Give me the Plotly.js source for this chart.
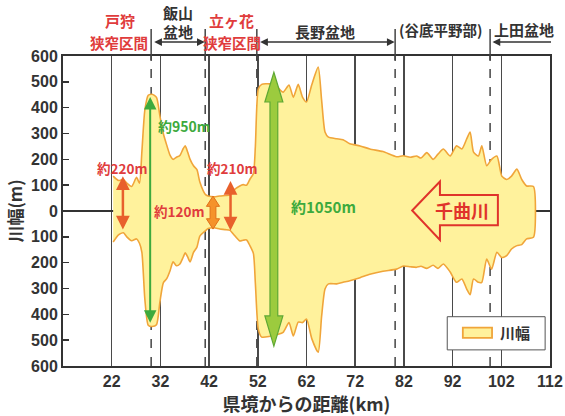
<!DOCTYPE html>
<html><head><meta charset="utf-8">
<script src="https://cdn.plot.ly/plotly-3.0.1.min.js"></script>
<style>html,body{margin:0;padding:0;background:#fff}#chart{width:565px;height:416px}</style>
</head><body><div id="chart"></div>
<script>
// distance from prefectural border (km)
const distanceKm = [22.3,23.4,24.4,25.1,26.1,27.1,27.7,28.2,28.8,29.5,30.3,31.2,31.9,32.6,33.3,34.0,34.6,35.3,36.0,36.7,37.1,37.6,38.1,38.8,39.5,40.1,41.2,41.8,43.0,44.2,45.3,46.3,47.0,48.3,49.0,49.7,50.4,51.1,51.5,52.1,52.8,54.5,56.0,57.2,58.4,59.3,60.3,61.2,62.0,63.1,64.4,65.1,65.8,66.5,68.2,69.5,70.9,73.0,75.0,77.7,80.5,81.9,83.3,84.6,85.5,86.7,88.0,89.0,90.1,91.5,92.8,93.9,94.9,95.6,96.3,97.3,98.0,99.0,100.0,101.1,102.1,103.1,104.1,105.2,106.2,107.2,108.6];
// half river width, upper side (m)
const upperWidth = [135,118,122,108,95,130,108,230,390,448,452,440,368,300,255,215,200,208,215,242,252,228,200,175,160,112,65,58,55,58,60,62,80,97,102,100,124,145,250,472,490,492,480,460,488,440,490,440,422,490,557,430,306,286,280,276,260,252,240,230,210,214,208,213,205,226,200,220,240,213,252,240,279,306,228,213,252,175,200,213,135,122,135,162,122,97,95];
// half river width, lower side (m)
const lowerWidth = [-120,-92,-84,-100,-115,-108,-125,-160,-340,-442,-447,-440,-352,-278,-262,-230,-197,-212,-205,-178,-162,-178,-197,-160,-140,-97,-77,-68,-65,-70,-72,-75,-90,-116,-113,-112,-135,-165,-280,-457,-488,-485,-478,-470,-432,-484,-430,-432,-418,-495,-547,-408,-302,-282,-282,-276,-270,-258,-245,-233,-225,-213,-216,-218,-214,-222,-210,-222,-205,-236,-276,-263,-302,-324,-263,-276,-276,-186,-225,-160,-180,-173,-147,-134,-130,-108,-102];
const xTickVals = [22,32,42,52,62,72,82,92,102,112];
const xTickText = ['22','32','42','52','62','72','82','92','102','112'];
const yTickVals = [-600,-500,-400,-300,-200,-100,0,100,200,300,400,500,600];
const yTickText = ['600','500','400','300','200','100','0','100','200','300','400','500','600'];
const sectionBounds = [30.1,41.2,51.8,80.2,99.7];
const seriesName = '川幅';

const jp = '"Noto Sans CJK JP", "Noto Sans", sans-serif';
const numFont = '"Liberation Sans", Arial, sans-serif';
const fillCol = '#FFF29C', edgeCol = '#F0A53A';
const polyX = distanceKm.concat(distanceKm.slice().reverse());
const polyY = upperWidth.concat(lowerWidth.slice().reverse());

const trace = {
  type:'scatter', mode:'lines', name:seriesName, showlegend:false,
  x: polyX, y: polyY, fill:'toself',
  fillcolor:fillCol,
  line:{color:edgeCol, width:1.6, shape:'spline', smoothing:0.6},
  hoverinfo:'skip'
};

const shapes = [];
sectionBounds.forEach(b=>{
  shapes.push({type:'line', xref:'x', yref:'paper', x0:b, x1:b, y0:0, y1:1,
    line:{color:'#444', width:1.5, dash:'dash'}, layer:'below'});
  shapes.push({type:'line', xref:'x', yref:'paper', x0:b, x1:b, y0:0.984, y1:1.087,
    line:{color:'#444', width:1.5}, layer:'above'});
});
// big green arrow (約1050m)
shapes.push({type:'path', xref:'x', yref:'y',
  path:'M55.3,537 L57.15,422 L56.1,422 L56.1,-406 L57.15,-406 L55.3,-523 L53.45,-406 L54.5,-406 L54.5,422 L53.45,422 Z',
  fillcolor:'#9CCB3E', line:{color:'#5EA834', width:1.2}, layer:'above'});
// thick orange arrow (約120m)
shapes.push({type:'path', xref:'x', yref:'y',
  path:'M42.8,58 L44.15,18 L43.4,18 L43.4,-30 L44.15,-30 L42.8,-70 L41.45,-30 L42.2,-30 L42.2,18 L41.45,18 Z',
  fillcolor:'#F5922A', line:{color:'#E0701A', width:1}, layer:'above'});
// 千曲川 flow arrow outline
shapes.push({type:'path', xref:'x', yref:'y',
  path:'M83.7,2 L89.4,114 L89.4,62 L101.3,62 L101.3,-55 L89.4,-55 L89.4,-112 Z',
  fillcolor:'rgba(0,0,0,0)', line:{color:'#E0332B', width:2}, layer:'above'});
// legend box
shapes.push({type:'rect', xref:'paper', yref:'paper', x0:0.789, x1:0.990, y0:0.052, y1:0.159,
  fillcolor:'#fff', line:{color:'#555', width:1}, layer:'above'});
shapes.push({type:'rect', xref:'paper', yref:'paper', x0:0.821, x1:0.881, y0:0.091, y1:0.124,
  fillcolor:fillCol, line:{color:edgeCol, width:1.8}, layer:'above'});

function dbl(x, y1, y2, color, w, size){
  return {x:x, y:y1, ax:x, ay:y2, xref:'x', yref:'y', axref:'x', ayref:'y', text:'',
    showarrow:true, arrowhead:2, startarrowhead:2, arrowside:'end+start',
    arrowsize:size, startarrowsize:size, arrowwidth:w, arrowcolor:color, standoff:0, startstandoff:0};
}
function hArrow(x, axPix, side){
  return {x:x, y:1.045, xref:'x', yref:'paper', ax:axPix, ay:0, text:'',
    showarrow:true, arrowhead:2, startarrowhead:2, arrowside:side,
    arrowsize:1.1, startarrowsize:1.1, arrowwidth:1.4, arrowcolor:'#333', standoff:0, startstandoff:0};
}
function lbl(text, x, y, color, size, yref){
  return {x:x, y:y, xref:'x', yref:yref||'y', text:text, showarrow:false,
    font:{family:jp, size:size, color:color, weight:'bold'}, xanchor:'center', yanchor:'middle'};
}

const annotations = [
  dbl(29.9, 441, -438, '#3DAA3D', 2, 1.25),
  dbl(24.3, 135, -77, '#E8602C', 2.5, 1.1),
  dbl(46.4, 116, -81, '#E8602C', 2.5, 1.1),
  lbl('約950m', 36.9, 329, '#3DAA3D', 14),
  lbl('約220m', 24.1, 166, '#E03C3C', 13.5),
  lbl('約210m', 46.6, 166, '#E03C3C', 13.5),
  lbl('約120m', 35.8, 0, '#E03C3C', 13.5),
  lbl('約1050m', 65.4, 19, '#3DAA3D', 15),
  lbl('千曲川', 94.0, 3, '#E0332B', 18),
  lbl('戸狩', 23.7, 1.113, '#E03C3C', 15, 'paper'),
  lbl('狭窄区間', 23.5, 1.042, '#E03C3C', 14.5, 'paper'),
  lbl('飯山', 35.6, 1.139, '#333', 15, 'paper'),
  lbl('盆地', 35.6, 1.078, '#333', 15, 'paper'),
  lbl('立ヶ花', 46.5, 1.113, '#E03C3C', 15, 'paper'),
  lbl('狭窄区間', 46.7, 1.042, '#E03C3C', 14.5, 'paper'),
  lbl('長野盆地', 65.8, 1.078, '#333', 15, 'paper'),
  lbl('(谷底平野部)', 89.6, 1.084, '#333', 14.5, 'paper'),
  lbl('上田盆地', 106.6, 1.087, '#333', 15, 'paper'),
  hArrow(41.1, -52, 'end+start'),
  hArrow(80.1, -136, 'end+start'),
  hArrow(100.2, 60, 'end'),
  {x:0.893, y:0.107, xref:'paper', yref:'paper', text:seriesName, showarrow:false,
    xanchor:'left', yanchor:'middle', font:{family:jp, size:15, color:'#333', weight:'bold'}}
];

const layout = {
  width:565, height:416,
  margin:{l:63, r:15, t:56, b:50},
  paper_bgcolor:'#fff', plot_bgcolor:'#fff',
  showlegend:false,
  xaxis:{range:[12,112], tickvals:xTickVals, ticktext:xTickText,
    showgrid:true, gridcolor:'#4a4a4a', gridwidth:1.5, zeroline:false,
    showline:true, mirror:true, linecolor:'#333', linewidth:2, ticks:'',
    tickfont:{family:numFont, size:16, color:'#333', weight:'bold'},
    title:{text:'県境からの距離(km)', font:{family:jp, size:18, color:'#333', weight:'bold'}, standoff:4}},
  yaxis:{range:[-600,600], tickvals:yTickVals, ticktext:yTickText,
    showgrid:false, zeroline:true, zerolinecolor:'#333', zerolinewidth:1.5,
    showline:true, mirror:true, linecolor:'#333', linewidth:2,
    ticks:'inside', ticklen:6, tickwidth:1.5, tickcolor:'#333',
    tickfont:{family:numFont, size:16, color:'#333', weight:'bold'},
    title:{text:'川幅(m)', font:{family:jp, size:17, color:'#333', weight:'bold'}, standoff:4}},
  shapes:shapes,
  annotations:annotations
};

Plotly.newPlot('chart', [trace], layout, {displayModeBar:false, staticPlot:true});
</script>
</body></html>
